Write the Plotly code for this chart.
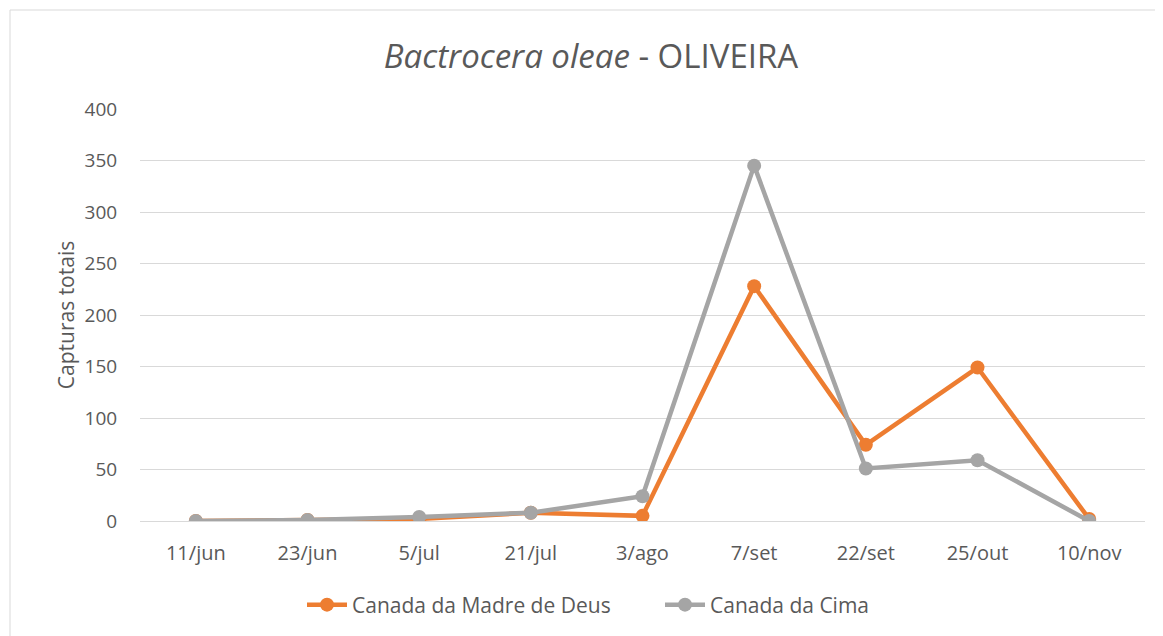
import plotly.graph_objects as go

categories = ["11/jun", "23/jun", "5/jul", "21/jul", "3/ago", "7/set", "22/set", "25/out", "10/nov"]
madre_de_deus = [0, 1, 2, 8, 5, 228, 74, 149, 2]
da_cima = [0, 1, 4, 8, 24, 345, 51, 59, 0]
y_ticks = [0, 50, 100, 150, 200, 250, 300, 350, 400]

FONT = "Open Sans"
TXT = "#595959"

# page has an 8px body margin; figure sized / positioned to compensate
W, H = 1155, 628
OFF = 8
PX = (591 - 140) / 1005  # chart-frame centre in paper coords

fig = go.Figure()
fig.add_trace(go.Scatter(
    x=categories, y=madre_de_deus, name="Canada da Madre de Deus",
    mode="lines+markers",
    line=dict(color="#ED7D31", width=4.5),
    marker=dict(color="#ED7D31", size=14),
))
fig.add_trace(go.Scatter(
    x=categories, y=da_cima, name="Canada da Cima",
    mode="lines+markers",
    line=dict(color="#A5A5A5", width=4.5),
    marker=dict(color="#A5A5A5", size=14),
))

fig.update_layout(
    width=W, height=H,
    margin=dict(l=140 - OFF, r=18, t=109 - OFF, b=115, autoexpand=False),
    paper_bgcolor="white", plot_bgcolor="white",
    font=dict(family=FONT, color=TXT, size=20),
    title=dict(
        text="<i>Bactrocera oleae</i> - OLIVEIRA",
        x=PX, xanchor="center", xref="paper",
        y=1 - (56 - OFF) / H, yanchor="middle",
        font=dict(family=FONT, size=33, color=TXT),
    ),
    showlegend=True,
    legend=dict(
        orientation="h", x=(302 - 140) / 1005, xanchor="left", xref="paper",
        y=-(605 - 521) / 412, yanchor="middle",
        font=dict(family=FONT, size=21, color=TXT),
        itemwidth=40, tracegroupgap=0, entrywidth=303,
    ),
    xaxis=dict(
        type="category", range=[-0.5, 8.5], tickangle=0, automargin=False,
        showgrid=False, showline=True, linecolor="#D9D9D9", linewidth=1,
        ticks="outside", ticklen=14, tickcolor="rgba(0,0,0,0)",
        tickfont=dict(family=FONT, size=20, color=TXT),
        zeroline=False,
    ),
    yaxis=dict(
        range=[0, 400], tickvals=y_ticks, automargin=False,
        showgrid=True, gridcolor="#D9D9D9", gridwidth=1,
        zeroline=False, showline=False,
        ticks="outside", ticklen=18, tickcolor="rgba(0,0,0,0)",
        tickfont=dict(family=FONT, size=19, color=TXT),
        title=dict(text="Capturas totais", font=dict(family=FONT, size=21, color=TXT), standoff=4),
    ),
    shapes=[
        dict(type="line", xref="paper", yref="paper",
             x0=(10 - 140) / 1005, x1=(1163 - 140) / 1005,
             y0=(521 - 10) / 412, y1=(521 - 10) / 412,
             line=dict(color="#D9D9D9", width=1)),
        dict(type="line", xref="paper", yref="paper",
             x0=(10 - 140) / 1005, x1=(10 - 140) / 1005,
             y0=(521 - 10) / 412, y1=(521 - 640) / 412,
             line=dict(color="#D9D9D9", width=1)),
    ],
)

fig.write_html("out.html")
